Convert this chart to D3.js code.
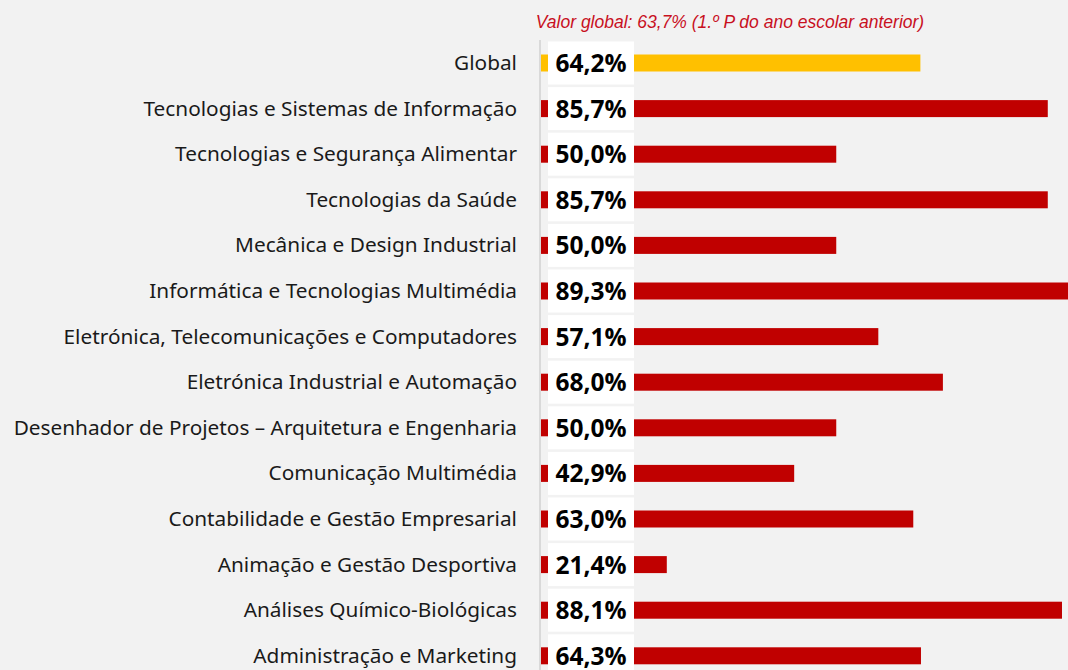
<!DOCTYPE html>
<html>
<head>
<meta charset="utf-8">
<script src="https://cdn.jsdelivr.net/npm/d3@7"></script>
<style>
  body { margin: 0; background: #f2f2f2; overflow: hidden; }
</style>
</head>
<body>
<script>
var categories = ["Global", "Tecnologias e Sistemas de Informação", "Tecnologias e Segurança Alimentar",
  "Tecnologias da Saúde", "Mecânica e Design Industrial", "Informática e Tecnologias Multimédia",
  "Eletrónica, Telecomunicações e Computadores", "Eletrónica Industrial e Automação",
  "Desenhador de Projetos – Arquitetura e Engenharia", "Comunicação Multimédia",
  "Contabilidade e Gestão Empresarial", "Animação e Gestão Desportiva",
  "Análises Químico-Biológicas", "Administração e Marketing"];
var values = [64.2, 85.7, 50.0, 85.7, 50.0, 89.3, 57.1, 68.0, 50.0, 42.9, 63.0, 21.4, 88.1, 64.3];
var title = "Valor global: 63,7% (1.º P do ano escolar anterior)";

var w = 1068, h = 670;
var x0 = 540;

var svg = d3.select("body").append("svg")
    .attr("width", w)
    .attr("height", h);

svg.append("rect").attr("width", w).attr("height", h).attr("fill", "#f2f2f2");

var xScale = d3.scaleLinear().domain([0, 100]).range([x0, x0 + 592.5]);
var yScale = d3.scaleBand().domain(categories).range([40.2, 40.2 + 14 * 45.6]);

var data = categories.map(function (c, i) { return {cat: c, val: values[i]}; });

// bars
svg.selectAll(".bar")
    .data(data)
  .enter().append("rect")
    .attr("class", "bar")
    .attr("x", xScale(0))
    .attr("y", function (d) { return yScale(d.cat) + yScale.bandwidth() / 2 - 8.5; })
    .attr("width", function (d) { return xScale(d.val) - xScale(0); })
    .attr("height", 17)
    .attr("fill", function (d) { return d.cat === "Global" ? "#ffc000" : "#c00000"; });

// axis line
svg.append("line")
    .attr("x1", x0).attr("x2", x0)
    .attr("y1", 40).attr("y2", h)
    .attr("stroke", "#d9d9d9").attr("stroke-width", 2);

// value boxes
svg.selectAll(".box")
    .data(data)
  .enter().append("rect")
    .attr("class", "box")
    .attr("x", 548)
    .attr("y", function (d) { return yScale(d.cat) + yScale.bandwidth() / 2 - 21.5; })
    .attr("width", 86)
    .attr("height", 43)
    .attr("fill", "#ffffff");

svg.selectAll(".val")
    .data(data)
  .enter().append("text")
    .attr("class", "val")
    .attr("x", 591)
    .attr("y", function (d) { return yScale(d.cat) + yScale.bandwidth() / 2 + 9; })
    .attr("text-anchor", "middle")
    .style("font-family", "'Open Sans', sans-serif")
    .style("font-weight", "bold")
    .style("font-size", "24.5px")
    .attr("fill", "#000")
    .text(function (d) { return d3.format(".1f")(d.val).replace(".", ",") + "%"; });

// category labels
svg.selectAll(".cat")
    .data(data)
  .enter().append("text")
    .attr("class", "cat")
    .attr("x", 517)
    .attr("y", function (d) { return yScale(d.cat) + yScale.bandwidth() / 2 + 7; })
    .attr("text-anchor", "end")
    .style("font-family", "'Noto Sans', sans-serif")
    .style("font-size", "20.8px")
    .attr("fill", "#1a1a1a")
    .text(function (d) { return d.cat; });

// title
svg.append("text")
    .attr("x", 730).attr("y", 28)
    .attr("text-anchor", "middle")
    .style("font-family", "'Liberation Sans', Arial, sans-serif")
    .style("font-style", "italic")
    .style("font-size", "17.5px")
    .attr("fill", "#c8101e")
    .text(title);
</script>
</body>
</html>
